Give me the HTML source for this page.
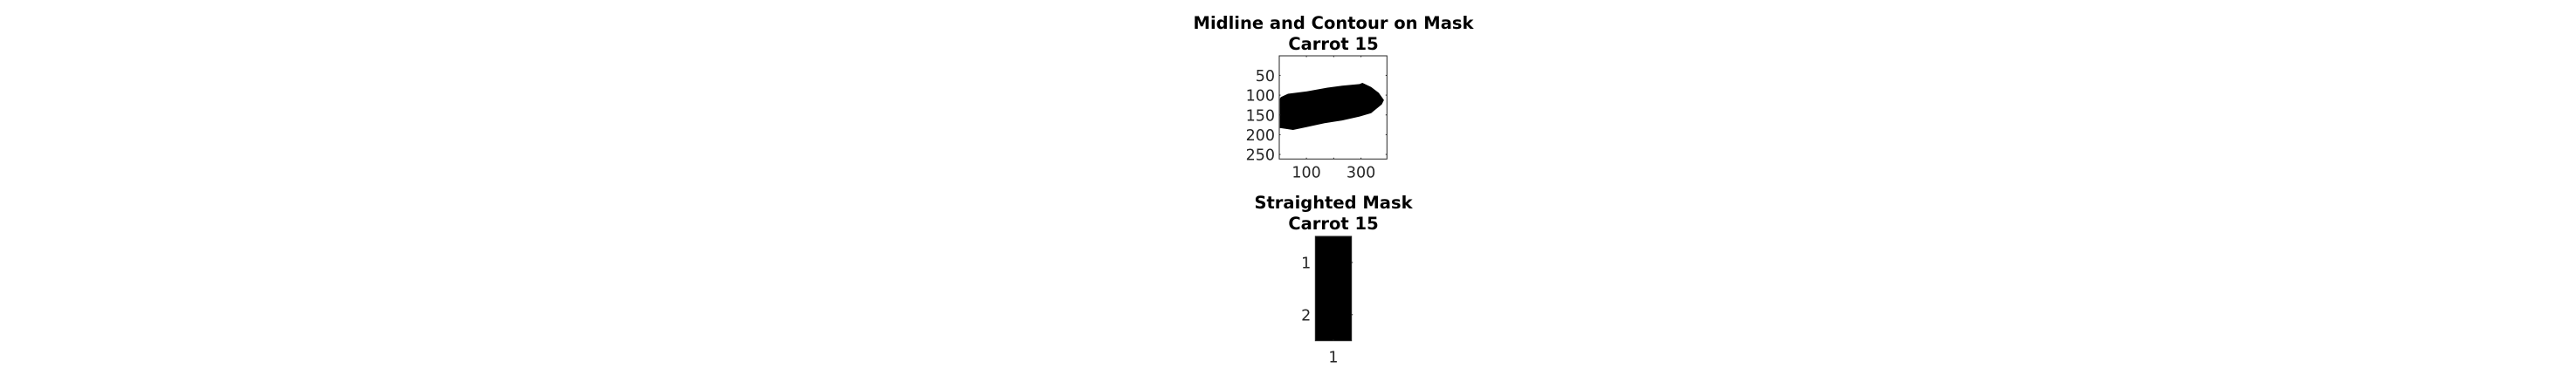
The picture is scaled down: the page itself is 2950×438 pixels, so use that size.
<!DOCTYPE html>
<html><head><meta charset="utf-8"><style>
html,body{margin:0;padding:0;background:#fff;width:2950px;height:438px;overflow:hidden}
svg{display:block}
text{font-family:"DejaVu Sans","Liberation Sans",sans-serif}
.t{font-weight:bold;font-size:19.5px;fill:#000;text-anchor:middle}
.k{font-size:17.5px;fill:#262626}
</style></head><body>
<svg id="fig" width="2950" height="438" xmlns="http://www.w3.org/2000/svg">
<g>
<text class="t" x="1527" y="33">Midline and Contour on Mask</text>
<text class="t" x="1527" y="57">Carrot 15</text>
</g>
<g id="topAx"></g>
<g>
<text class="t" x="1527" y="239">Straighted Mask</text>
<text class="t" x="1527" y="263">Carrot 15</text>
</g>
<g id="botAx"></g>
</svg>
<script>
const NS="http://www.w3.org/2000/svg";
const maskXTicks=[100,200,300];
const maskXLabels=["100","","300"];
const maskYTicks=[50,100,150,200,250];
const maskOutlineX=[2.6,5.8,32.5,102,177,231,295,305,337,365,384,376,337,295,231,166.5,102,51,6,2.6];
const maskOutlineY=[108.8,105,96.5,90.5,81,76,72,69,79.5,94,112.5,123.5,145.5,154,164,171,180.5,188,183.5,183.5];
const strXTicks=[1];
const strYTicks=[1,2];
function mk(p,tag,a){const e=document.createElementNS(NS,tag);for(const k in a)e.setAttribute(k,a[k]);p.appendChild(e);return e;}
const L=1465,R=1588.3,T=64,B=182.3,x0=0.5,x1=395,y0=0.5,y1=261.5;
const sx=v=>L+(v-x0)/(x1-x0)*(R-L), sy=v=>T+(v-y0)/(y1-y0)*(B-T);
const gTop=document.getElementById('topAx');
const pts=maskOutlineX.map((x,i)=>sx(x).toFixed(1)+','+sy(maskOutlineY[i]).toFixed(1)).join(' ');
const poly=mk(gTop,'polygon',{points:pts,fill:'#000'});


maskXTicks.forEach((v,i)=>{
 mk(gTop,'line',{x1:sx(v),x2:sx(v),y1:B,y2:B-1.5,stroke:'#262626'});
 mk(gTop,'line',{x1:sx(v),x2:sx(v),y1:T,y2:T+1.5,stroke:'#262626'});
 if(maskXLabels[i]){const t=mk(gTop,'text',{x:sx(v),y:B+21,'text-anchor':'middle',class:'k'});t.textContent=maskXLabels[i];
 
 }
});
maskYTicks.forEach(v=>{
 mk(gTop,'line',{x1:L,x2:L+1.5,y1:sy(v),y2:sy(v),stroke:'#262626'});
 mk(gTop,'line',{x1:R,x2:R-1.5,y1:sy(v),y2:sy(v),stroke:'#262626'});
 const t=mk(gTop,'text',{x:L-5,y:sy(v)+6.5,'text-anchor':'end',class:'k'});t.textContent=v;
 
 
});
mk(gTop,'rect',{x:L,y:T,width:R-L,height:B-T,fill:'none',stroke:'#262626','stroke-width':1});
const bL=1506.3,bR=1547.7,bT=271,bB=390.7;
const bx=v=>bL+(v-0.5)*(bR-bL), by=v=>bT+(v-0.5)/2*(bB-bT);
const gBot=document.getElementById('botAx');
const img=mk(gBot,'rect',{x:bL,y:bT,width:bR-bL,height:bB-bT,fill:'#000'});


strXTicks.forEach(v=>{
 mk(gBot,'line',{x1:bx(v),x2:bx(v),y1:bB,y2:bB-1.5,stroke:'#262626'});
 const t=mk(gBot,'text',{x:bx(v),y:bB+25,'text-anchor':'middle',class:'k'});t.textContent=v;
 
 
});
strYTicks.forEach(v=>{
 mk(gBot,'line',{x1:bR,x2:bR+1.5,y1:by(v),y2:by(v),stroke:'#262626'});
 const t=mk(gBot,'text',{x:bL-5,y:by(v)+6.5,'text-anchor':'end',class:'k'});t.textContent=v;
 
 
});
mk(gBot,'rect',{x:bL,y:bT,width:bR-bL,height:bB-bT,fill:'none',stroke:'#262626','stroke-width':1});
</script>
</body></html>
